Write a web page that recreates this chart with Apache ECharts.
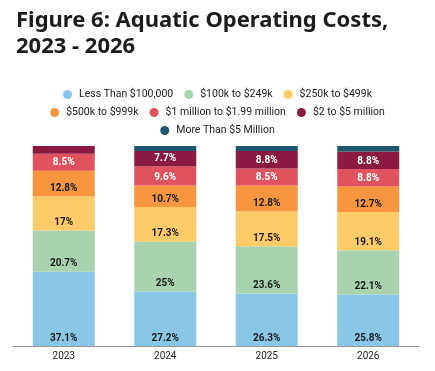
<!DOCTYPE html>
<html>
<head>
<meta charset="utf-8">
<script src="https://cdn.jsdelivr.net/npm/echarts@6/dist/echarts.min.js"></script>
<style>html,body{margin:0;padding:0;background:#fff}#c{width:435px;height:371px}</style>
</head>
<body>
<div id="c"></div>
<script>
var years = ['2023', '2024', '2025', '2026'];
var seriesNames = ['Less Than $100,000', '$100k to $249k', '$250k to $499k', '$500k to $999k', '$1 million to $1.99 million', '$2 to $5 million', 'More Than $5 Million'];
var lessThan100k = [37.1, 27.2, 26.3, 25.8];
var k100to249 = [20.7, 25, 23.6, 22.1];
var k250to499 = [17, 17.3, 17.5, 19.1];
var k500to999 = [12.8, 10.7, 12.8, 12.7];
var m1to199 = [8.5, 9.6, 8.5, 8.8];
var m2to5 = [3.9, 7.7, 8.8, 8.8];
var moreThan5m = [0, 2.5, 2.5, 2.7];

var values = [lessThan100k, k100to249, k250to499, k500to999, m1to199, m2to5, moreThan5m];
var colors = ['#8AC7E7', '#A9D3AF', '#FFCA68', '#F7963F', '#E0535E', '#8A1A42', '#1F5670'];
var labelColors = ['#1a1a1a', '#1a1a1a', '#1a1a1a', '#1a1a1a', '#ffffff', '#ffffff', '#ffffff'];

var chart = echarts.init(document.getElementById('c'), null, {renderer: 'canvas'});
var series = values.map(function (v, i) {
  return {
    name: seriesNames[i],
    type: 'bar',
    stack: 'total',
    barWidth: 62,
    data: v,
    itemStyle: {color: colors[i]},
    label: {
      show: i < 6,
      position: 'insideBottom',
      distance: 3,
      color: labelColors[i],
      fontFamily: 'Roboto',
      fontWeight: 'bold',
      fontSize: 10,
      formatter: function (p) { return p.value >= 5 ? p.value + '%' : ''; }
    }
  };
});

function legendRow(names, top) {
  return {
    data: names,
    top: top,
    left: 'center',
    icon: 'circle',
    itemWidth: 9,
    itemHeight: 9,
    itemGap: 11,
    textStyle: {fontFamily: 'Roboto', fontSize: 10.5, color: '#222', padding: [0, 0, 0, 2]}
  };
}

chart.setOption({
  animation: false,
  title: {
    text: 'Figure 6: Aquatic Operating Costs,\n2023 - 2026',
    left: 11,
    top: 3,
    textStyle: {fontFamily: 'Noto Sans', fontWeight: 'bold', fontSize: 22, lineHeight: 26, color: '#1c1c1c'}
  },
  legend: [
    legendRow(seriesNames.slice(0, 3), 84),
    legendRow(seriesNames.slice(3, 6), 102),
    legendRow(seriesNames.slice(6, 7), 120)
  ],
  grid: {left: 13, right: 16, top: 146, bottom: 25, containLabel: false},
  xAxis: {
    type: 'category',
    data: years,
    axisLine: {lineStyle: {color: '#999'}},
    axisTick: {show: false},
    axisLabel: {fontFamily: 'Roboto', fontSize: 10, color: '#222', margin: 5}
  },
  yAxis: {type: 'value', min: 0, max: 100, show: false, splitLine: {show: false}},
  series: series
});
</script>
</body>
</html>
